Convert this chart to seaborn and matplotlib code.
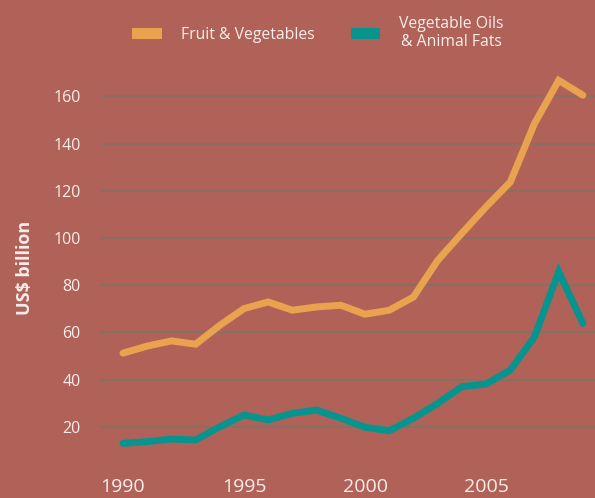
import numpy as np
import pandas as pd
import matplotlib
matplotlib.use("Agg")
import matplotlib.pyplot as plt
import seaborn as sns
from matplotlib.patches import Patch

years = list(range(1990, 2010))
fruit_veg = [51.2, 54.2, 56.4, 55.0, 63.0, 70.1, 72.9, 69.4, 70.8, 71.5,
             67.7, 69.4, 75.0, 90.5, 102.0, 113.2, 123.7, 148.5, 166.8, 160.5]
oils_fats = [13.0, 13.7, 14.8, 14.4, 20.0, 25.0, 22.9, 25.7, 27.1, 23.6,
             19.8, 18.3, 23.6, 29.9, 37.0, 38.1, 44.0, 58.1, 85.7, 63.8]
series_names = ["Fruit & Vegetables", "Vegetable Oils\n& Animal Fats"]
y_ticks = [20, 40, 60, 80, 100, 120, 140, 160]
x_ticks = [1990, 1995, 2000, 2005]

bg = "#B06259"
orange = "#E9A24E"
teal = "#07948F"
grid_c = "#8C6E60"
txt = "#F8EDE9"

df = pd.DataFrame({
    "year": years * 2,
    "value": fruit_veg + oils_fats,
    "series": [series_names[0]] * len(years) + [series_names[1]] * len(years),
})

sns.set_theme(style="white")
plt.rcParams["font.family"] = ["Open Sans", "DejaVu Sans"]

fig = plt.figure(figsize=(5.95, 4.98), dpi=100, facecolor=bg)
ax = fig.add_axes([100 / 595, 1 - 474 / 498, 1 - 100 / 595, (474 - 61) / 498])
ax.set_facecolor(bg)

sns.lineplot(data=df, x="year", y="value", hue="series",
             palette=[orange, teal], linewidth=5, ax=ax, legend=False,
             solid_joinstyle="miter")

ax.set_xlim(1989.05, 2009.5)
ax.set_ylim(0, 175)
ax.set_yticks(y_ticks)
ax.set_xticks(x_ticks)
ax.set_xticklabels([str(x) for x in x_ticks])
ax.yaxis.grid(True, color=grid_c, linewidth=1.6)
ax.xaxis.grid(False)
ax.set_axisbelow(True)
for s in ax.spines.values():
    s.set_visible(False)
ax.tick_params(axis="y", length=0, pad=14, labelsize=11.5, labelcolor=txt)
ax.tick_params(axis="x", length=0, pad=3, labelsize=14, labelcolor=txt)
ax.set_xlabel("")
ax.set_ylabel("US$ billion", color=txt, fontsize=13, fontweight="bold", labelpad=14)

handles = [Patch(facecolor=orange, edgecolor="none"), Patch(facecolor=teal, edgecolor="none")]
leg = fig.legend(handles, series_names, loc="center", bbox_to_anchor=(318 / 595, 1 - 33 / 498),
                 ncol=2, frameon=False, fontsize=11.3, handlelength=1.9, handleheight=0.75,
                 columnspacing=2.3, handletextpad=1.2, labelcolor=txt)
for t in leg.get_texts():
    t.set_multialignment("center")

fig.savefig("out.png", dpi=100, facecolor=bg)
